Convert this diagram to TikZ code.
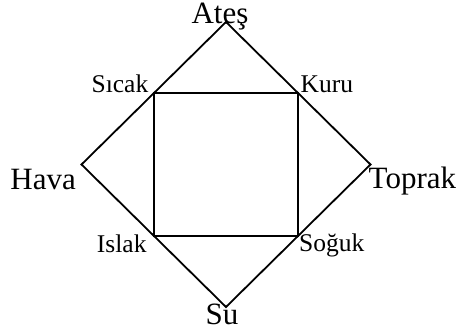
\documentclass[tikz,border=0pt]{standalone}
\usepackage{fontspec}
\setmainfont{Liberation Serif}
\usetikzlibrary{calc}
\begin{document}
\begin{tikzpicture}[x=1pt,y=-1pt,
  edge/.style={line width=1.8pt,line join=miter},
  biglabel/.style={inner sep=0pt,font=\fontsize{31}{31}\selectfont},
  smalllabel/.style={inner sep=0pt,font=\fontsize{25.5}{25.5}\selectfont}]
\useasboundingbox (0,0) rectangle (456,336);
% outer diamond
\coordinate (T) at (226,22);
\coordinate (L) at (81.5,164.5);
\coordinate (R) at (370.5,164.5);
\coordinate (B) at (226,307);
% inner square
\coordinate (S1) at ($(T)!0.5!(L)$);
\coordinate (S2) at ($(T)!0.5!(R)$);
\coordinate (S3) at ($(B)!0.5!(R)$);
\coordinate (S4) at ($(B)!0.5!(L)$);
\draw[edge] (T) -- (R) -- (B) -- (L) -- cycle;
\draw[edge] (S1) -- (S2) -- (S3) -- (S4) -- cycle;
% labels
\node[biglabel,anchor=base,text height=20pt] (ates) at (220,23.5) {Ateş};
\node[biglabel,anchor=base east] (hava) at (76,190) {Hava};
\node[biglabel,anchor=base west] (toprak) at (368.5,189) {Toprak};
\node[biglabel,anchor=base] (su) at (222,325) {Su};
\node[smalllabel,anchor=base east] (sicak) at (148.5,92.7) {Sıcak};
\node[smalllabel,anchor=base west] (kuru) at (300.5,93) {Kuru};
\node[smalllabel,anchor=base east] (islak) at (146.7,253) {Islak};
\node[smalllabel,anchor=base west] (soguk) at (299,252) {Soğuk};
\end{tikzpicture}
\end{document}
